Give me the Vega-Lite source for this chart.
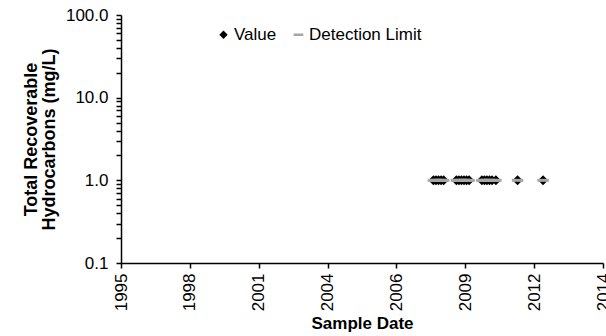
{
  "$schema": "https://vega.github.io/schema/vega-lite/v6.json",
  "width": 482,
  "height": 248,
  "autosize": {"type": "none"},
  "padding": {"left": 121, "top": 15, "right": 3, "bottom": 73},
  "background": "white",
  "config": {
    "view": {"stroke": null},
    "font": "Liberation Sans",
    "axis": {"grid": false, "domainColor": "black", "tickColor": "black", "domainWidth": 1.5, "tickWidth": 1.5, "labelColor": "black", "titleColor": "black", "labelFontSize": 17, "titleFontSize": 17, "titleFontWeight": "bold"},
    "legend": {"padding": 0}
  },
  "data": {
    "values": [
      {"date": 2008.2, "value": 1.0, "series": "Value"},
      {"date": 2008.3, "value": 1.0, "series": "Value"},
      {"date": 2008.4, "value": 1.0, "series": "Value"},
      {"date": 2008.5, "value": 1.0, "series": "Value"},
      {"date": 2008.6, "value": 1.0, "series": "Value"},
      {"date": 2009.1, "value": 1.0, "series": "Value"},
      {"date": 2009.2, "value": 1.0, "series": "Value"},
      {"date": 2009.3, "value": 1.0, "series": "Value"},
      {"date": 2009.4, "value": 1.0, "series": "Value"},
      {"date": 2009.5, "value": 1.0, "series": "Value"},
      {"date": 2009.6, "value": 1.0, "series": "Value"},
      {"date": 2010.1, "value": 1.0, "series": "Value"},
      {"date": 2010.2, "value": 1.0, "series": "Value"},
      {"date": 2010.3, "value": 1.0, "series": "Value"},
      {"date": 2010.4, "value": 1.0, "series": "Value"},
      {"date": 2010.5, "value": 1.0, "series": "Value"},
      {"date": 2010.65, "value": 1.0, "series": "Value"},
      {"date": 2011.5, "value": 1.0, "series": "Value"},
      {"date": 2012.5, "value": 1.0, "series": "Value"},
      {"date": 2008.2, "value": 1.0, "series": "Detection Limit"},
      {"date": 2008.3, "value": 1.0, "series": "Detection Limit"},
      {"date": 2008.4, "value": 1.0, "series": "Detection Limit"},
      {"date": 2008.5, "value": 1.0, "series": "Detection Limit"},
      {"date": 2008.6, "value": 1.0, "series": "Detection Limit"},
      {"date": 2009.1, "value": 1.0, "series": "Detection Limit"},
      {"date": 2009.2, "value": 1.0, "series": "Detection Limit"},
      {"date": 2009.3, "value": 1.0, "series": "Detection Limit"},
      {"date": 2009.4, "value": 1.0, "series": "Detection Limit"},
      {"date": 2009.5, "value": 1.0, "series": "Detection Limit"},
      {"date": 2009.6, "value": 1.0, "series": "Detection Limit"},
      {"date": 2010.1, "value": 1.0, "series": "Detection Limit"},
      {"date": 2010.2, "value": 1.0, "series": "Detection Limit"},
      {"date": 2010.3, "value": 1.0, "series": "Detection Limit"},
      {"date": 2010.4, "value": 1.0, "series": "Detection Limit"},
      {"date": 2010.5, "value": 1.0, "series": "Detection Limit"},
      {"date": 2010.65, "value": 1.0, "series": "Detection Limit"},
      {"date": 2011.5, "value": 1.0, "series": "Detection Limit"},
      {"date": 2012.5, "value": 1.0, "series": "Detection Limit"}
    ]
  },
  "mark": {"type": "point", "filled": true, "opacity": 1, "size": 100, "clip": false},
  "encoding": {
    "x": {
      "field": "date", "type": "quantitative",
      "scale": {"domain": [1995.95, 2014.85], "nice": false, "zero": false},
      "axis": {
        "title": "Sample Date", "titlePadding": 5,
        "values": [1995.95, 1998.65, 2001.35, 2004.05, 2006.75, 2009.45, 2012.15, 2014.85],
        "labelExpr": "floor(datum.value)",
        "labelAngle": -90, "labelAlign": "right", "labelBaseline": "middle",
        "tickSize": 5, "labelPadding": 5, "labelOverlap": false, "labelFlush": false, "labelBound": false
      }
    },
    "y": {
      "field": "value", "type": "quantitative",
      "scale": {"type": "log", "domain": [0.1, 100], "nice": false},
      "axis": {
        "title": ["Total Recoverable", "Hydrocarbons  (mg/L)"],
        "titleX": -90, "titleY": 124, "titleAlign": "center", "titleBaseline": "middle", "titleAngle": -90, "titleLineHeight": 18, "titleFontSize": 18,
        "values": [0.1, 0.2, 0.3, 0.4, 0.5, 0.6, 0.7, 0.8, 0.9, 1, 2, 3, 4, 5, 6, 7, 8, 9, 10, 20, 30, 40, 50, 60, 70, 80, 90, 100],
        "labelExpr": "(datum.value == 0.1 || datum.value == 1 || datum.value == 10 || datum.value == 100) ? format(datum.value, '.1f') : ''",
        "tickSize": 5, "labelPadding": 8, "labelOverlap": false, "labelFlush": false
      }
    },
    "shape": {
      "field": "series", "type": "nominal",
      "scale": {"domain": ["Value", "Detection Limit"], "range": ["diamond", "M-1.15,-0.3L1.15,-0.3L1.15,0.3L-1.15,0.3Z"]},
      "legend": {"title": null, "orient": "none", "legendX": 94, "legendY": 11, "direction": "horizontal", "labelFontSize": 17, "labelColor": "black", "symbolSize": 70, "columnPadding": 13, "labelOffset": 2}
    },
    "color": {
      "field": "series", "type": "nominal",
      "scale": {"domain": ["Value", "Detection Limit"], "range": ["#000000", "#a6a6a6"]},
      "legend": {"title": null, "orient": "none", "legendX": 94, "legendY": 11, "direction": "horizontal", "labelFontSize": 17, "labelColor": "black", "symbolSize": 70, "columnPadding": 13, "labelOffset": 2}
    }
  }
}
